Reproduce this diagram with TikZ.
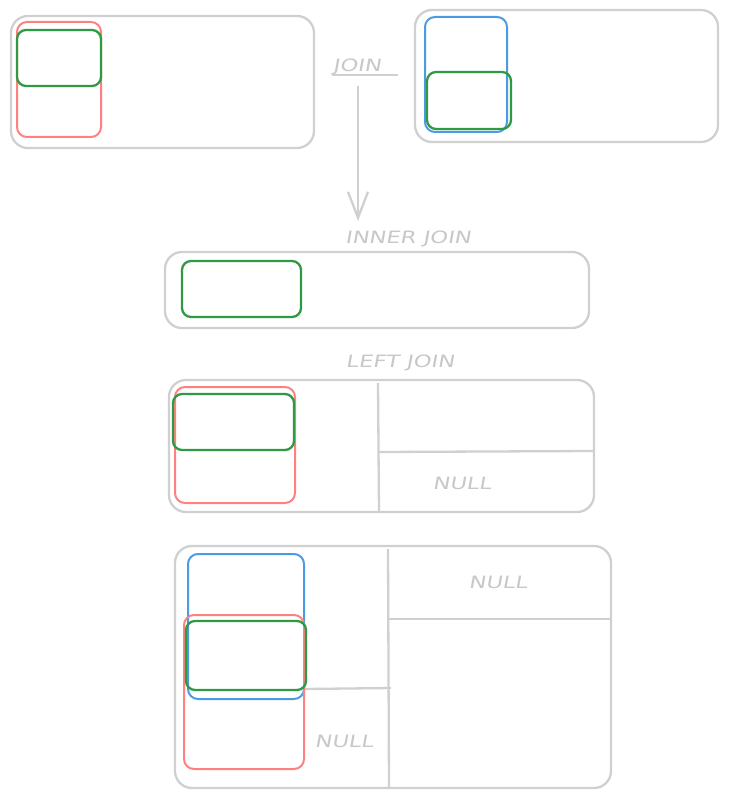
\documentclass[tikz,border=0pt]{standalone}
\usepackage{fontspec}
\setmainfont{DejaVu Sans}
\newfontfamily\handfont[FakeStretch=1.33,FakeSlant=0.18]{DejaVu Sans}
\usepackage{tikz}
\usetikzlibrary{arrows.meta}
\definecolor{frame}{HTML}{D0D0D0}
\definecolor{txt}{HTML}{C8C8C8}
\definecolor{redset}{HTML}{FF8080}
\definecolor{blueset}{HTML}{4A9BE3}
\definecolor{greenset}{HTML}{2F9A44}

\begin{document}
\begin{tikzpicture}[x=1pt,y=-1pt,
	outer/.style={draw=frame,line width=2.3pt,rounded corners=17pt},
	divider/.style={draw=frame,line width=2.3pt},
	redbox/.style={draw=redset,line width=2pt,rounded corners=10pt},
	bluebox/.style={draw=blueset,line width=2pt,rounded corners=10pt},
	greenbox/.style={draw=greenset,line width=2.3pt,rounded corners=9pt},
	lbl/.style={text=txt,font=\handfont\fontsize{17}{19}\selectfont,inner sep=0pt}]
	\useasboundingbox (0,0) rectangle (728,799);
	% tables
	\draw [outer] (11,16) rectangle (314,148);
	\draw [redbox] (17,22) rectangle (101,137);
	\draw [greenbox] (17,30) rectangle (101,86);
	\draw [outer] (415,10) rectangle (718,142);
	\draw [bluebox] (425,17) rectangle (507,132);
	\draw [greenbox] (427,72) rectangle (511,129);
	% join
	\node [lbl] (j1) at (357,67) {JOIN};
	\coordinate (u1) at (332,75);
	\coordinate (u2) at (398,75);
	\draw [divider] (u1) -- (u2);
	\coordinate (a1) at (358,86);
	\coordinate (a2) at (358,221);
	\draw [divider,-{Straight Barb[length=26pt,width=20pt,line width=2.3pt]}] (a1) -- (a2);
	% inner join
	\node [lbl] (j2) at (408,239) {INNER JOIN};
	\draw [outer] (165,252) rectangle (589,328);
	\draw [greenbox] (182,261) rectangle (301,317);
	% left join
	\node [lbl] (j3) at (400,363) {LEFT JOIN};
	\draw [outer] (169,380) rectangle (594,512);
	\draw [divider] (378,383) -- (379,512);
	\draw [divider] (379,452) -- (594,451);
	\draw [redbox] (175,387) rectangle (295,503);
	\draw [greenbox] (173,394) rectangle (294,450);
	\node [lbl] (n1) at (462,483) {NULL};
	% full join
	\draw [outer] (175,546) rectangle (611,788);
	\draw [divider] (388,549) -- (389,788);
	\draw [divider] (388,619) -- (611,619);
	\draw [divider] (304,689) -- (391,688);
	\draw [bluebox] (188,554) rectangle (304,699);
	\draw [redbox] (184,615) rectangle (304,769);
	\draw [greenbox] (186,621) rectangle (306,690);
	\node [lbl] (n2) at (498,582) {NULL};
	\node [lbl] (n3) at (344,741) {NULL};
\end{tikzpicture}
\end{document}
